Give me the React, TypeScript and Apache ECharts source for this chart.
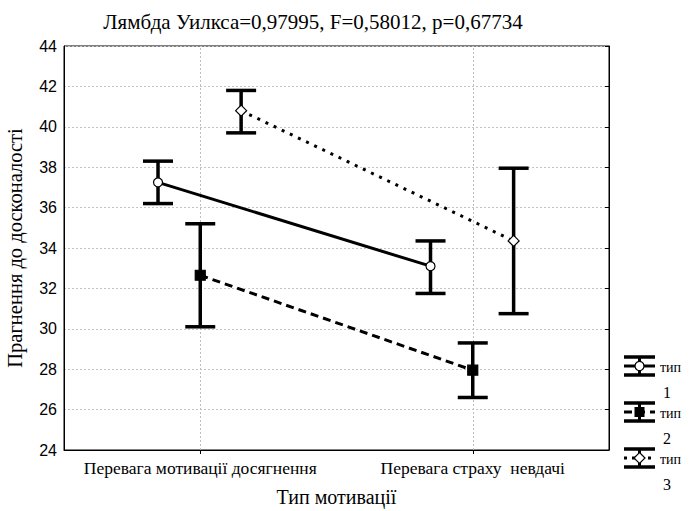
import React, { useEffect, useRef } from "react";
import * as echarts from "echarts";

const titleText = "Лямбда Уилкса=0,97995, F=0,58012, p=0,67734";
const categories = ["Перевага мотивації досягнення", "Перевага страху  невдачі"];
const xAxisTitle = "Тип мотивації";
const yAxisTitle = "Прагнення до досконалості";
const yMin = 24;
const yMax = 44;
const yStep = 2;

const seriesNames = ["тип 1", "тип 2", "тип 3"];
const type1Mean = [37.25, 33.1];
const type1Low = [36.2, 31.75];
const type1High = [38.3, 34.35];
const type2Mean = [32.65, 27.95];
const type2Low = [30.1, 26.6];
const type2High = [35.2, 29.3];
const type3Mean = [40.8, 34.35];
const type3Low = [39.7, 30.75];
const type3High = [41.8, 37.95];

const OFFSETS = [-0.155, 0, 0.15];
const SERIF = "Liberation Serif";
const SANS = "Liberation Sans";

const means = [type1Mean, type2Mean, type3Mean];
const lows = [type1Low, type2Low, type3Low];
const highs = [type1High, type2High, type3High];
const symbols = ["circle", "rect", "diamond"];
const symbolSizes = [9, 10, 11];
const symbolFills = ["#fff", "#000", "#fff"];
const lineTypes: any[] = ["solid", [8, 5], [3, 6]];

export default function App() {
  const ref = useRef<HTMLDivElement>(null);
  useEffect(() => {
    if (!ref.current) return;
    const chart = echarts.init(ref.current, null, { renderer: "svg" });
    const series: any[] = [];
    for (let s = 0; s < 3; s++) {
      const ebData = categories.map((_, i) => [i + 0.5 + OFFSETS[s], lows[s][i], highs[s][i]]);
      series.push({
        type: "custom",
        name: seriesNames[s] + " err",
        xAxisIndex: 1,
        yAxisIndex: 0,
        z: 2,
        silent: true,
        data: ebData,
        encode: { x: 0, y: [1, 2] },
        renderItem: (params: any, api: any) => {
          const x = api.value(0);
          const lo = api.coord([x, api.value(1)]);
          const hi = api.coord([x, api.value(2)]);
          const hw = 15;
          const st = { stroke: "#000", lineWidth: 3.5 };
          return {
            type: "group",
            children: [
              { type: "line", shape: { x1: lo[0], y1: lo[1], x2: hi[0], y2: hi[1] }, style: st },
              { type: "line", shape: { x1: lo[0] - hw, y1: lo[1], x2: lo[0] + hw, y2: lo[1] }, style: st },
              { type: "line", shape: { x1: hi[0] - hw, y1: hi[1], x2: hi[0] + hw, y2: hi[1] }, style: st },
            ],
          };
        },
      });
      const lineSeries: any = {
        type: "line",
        name: seriesNames[s],
        xAxisIndex: 1,
        yAxisIndex: 0,
        z: 3,
        data: categories.map((_, i) => [i + 0.5 + OFFSETS[s], means[s][i]]),
        symbol: symbols[s],
        symbolSize: symbolSizes[s],
        showSymbol: true,
        itemStyle: { color: symbolFills[s], borderColor: "#000", borderWidth: 1.2 },
        lineStyle: { color: "#000", width: 3, type: lineTypes[s] },
      };
      if (s === 0) {
        lineSeries.markLine = {
          silent: true,
          symbol: "none",
          label: { show: false },
          lineStyle: { color: "#bdbdbd", type: [2, 2], width: 1 },
          data: categories.map((_, i) => ({ xAxis: i + 0.5 })),
          z: 1,
        };
      }
      series.push(lineSeries);
    }

    const legendTop = [366, 412, 458];
    const graphics: any[] = [];
    for (let s = 0; s < 3; s++) {
      const cy = legendTop[s];
      const x1 = 624;
      const x2 = 655;
      const cx = (x1 + x2) / 2;
      const st = { stroke: "#000", lineWidth: 3.5 };
      graphics.push({ type: "line", shape: { x1, y1: cy - 9, x2, y2: cy - 9 }, style: st });
      graphics.push({ type: "line", shape: { x1, y1: cy + 9, x2, y2: cy + 9 }, style: st });
      graphics.push({ type: "line", shape: { x1: cx, y1: cy - 9, x2: cx, y2: cy + 9 }, style: { stroke: "#000", lineWidth: 3 } });
      graphics.push({
        type: "line",
        shape: { x1, y1: cy, x2, y2: cy },
        style: { stroke: "#000", lineWidth: 3, lineDash: s === 0 ? null : s === 1 ? [8, 5] : [3, 5] },
      });
      if (s === 0) {
        graphics.push({ type: "circle", shape: { cx, cy, r: 4.5 }, style: { fill: "#fff", stroke: "#000", lineWidth: 1.2 } });
      } else if (s === 1) {
        graphics.push({ type: "rect", shape: { x: cx - 5, y: cy - 5, width: 10, height: 10 }, style: { fill: "#000" } });
      } else {
        graphics.push({
          type: "polygon",
          shape: { points: [[cx, cy - 5.5], [cx + 5.5, cy], [cx, cy + 5.5], [cx - 5.5, cy]] },
          style: { fill: "#fff", stroke: "#000", lineWidth: 1.2 },
        });
      }
      const parts = seriesNames[s].split(" ");
      graphics.push({
        type: "text",
        x: 660,
        y: cy + 1,
        style: { text: parts[0], fontFamily: SERIF, fontSize: 14, fill: "#000", verticalAlign: "middle" },
      });
      graphics.push({
        type: "text",
        x: 663,
        y: cy + 26,
        style: { text: parts[1], fontFamily: SERIF, fontSize: 16, fill: "#000", verticalAlign: "middle" },
      });
    }

    chart.setOption({
      animation: false,
      backgroundColor: "#fff",
      title: {
        text: titleText,
        left: 308,
        textAlign: "center",
        top: 6,
        textStyle: { fontFamily: SERIF, fontSize: 21, fontWeight: "normal", color: "#000" },
      },
      grid: {
        left: 64,
        top: 46,
        right: 83,
        bottom: 61,
        containLabel: false,
        outerBoundsMode: "none",
        show: true,
        borderColor: "#000",
        borderWidth: 1,
        backgroundColor: "transparent",
      },
      xAxis: [
        {
          type: "category",
          data: categories,
          boundaryGap: true,
          position: "bottom",
          axisLine: { show: true, lineStyle: { color: "#000", width: 1 } },
          axisTick: { show: true, alignWithLabel: true, length: 4, lineStyle: { color: "#000" } },
          axisLabel: { fontFamily: SERIF, fontSize: 17.5, color: "#000", margin: 9, interval: 0 },
          splitLine: { show: false },
          name: xAxisTitle,
          nameLocation: "middle",
          nameGap: 37,
          nameTextStyle: { fontFamily: SERIF, fontSize: 20, color: "#000" },
        },
        { type: "value", min: 0, max: 2, show: false },
      ],
      yAxis: [
        {
          type: "value",
          min: yMin,
          max: yMax,
          interval: yStep,
          axisLine: { show: true, lineStyle: { color: "#000", width: 1 } },
          axisTick: { show: false },
          axisLabel: { fontFamily: SANS, fontSize: 16, color: "#000", margin: 7 },
          splitLine: { show: true, lineStyle: { color: "#c4c4c4", type: [2, 2], width: 1 } },
          name: yAxisTitle,
          nameLocation: "middle",
          nameGap: 39,
          nameTextStyle: { fontFamily: SERIF, fontSize: 20.5, color: "#000" },
        },
        {
          type: "value",
          position: "right",
          min: yMin,
          max: yMax,
          interval: yStep,
          axisLine: { show: true, lineStyle: { color: "#000", width: 1 } },
          axisTick: { show: true, inside: true, length: 4, lineStyle: { color: "#000" } },
          axisLabel: { show: false },
          splitLine: { show: false },
        },
      ],
      series,
      graphic: graphics,
    });
    return () => chart.dispose();
  }, []);
  return <div ref={ref} style={{ position: "fixed", left: 0, top: 0, width: 692, height: 511 }} />;
}
